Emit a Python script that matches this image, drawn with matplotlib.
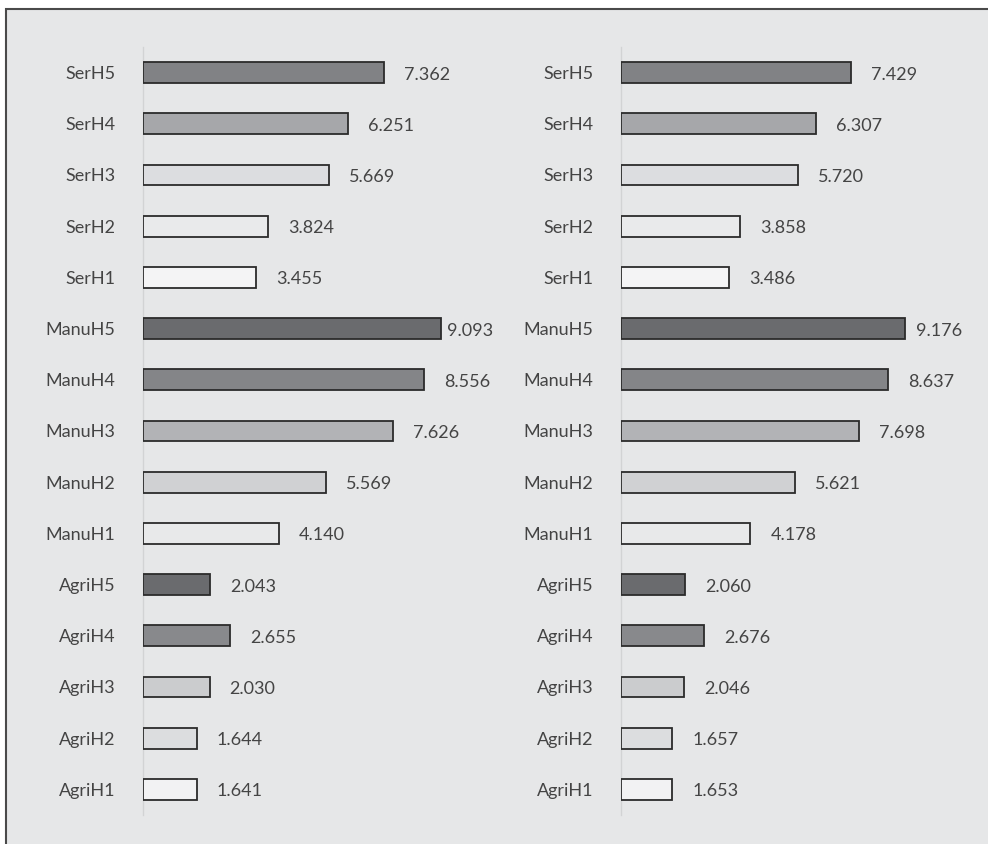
import matplotlib.pyplot as plt
from matplotlib.patches import Rectangle

plt.rcParams['font.family'] = ['Lato', 'DejaVu Sans']

# rows from bottom to top
labels = ['AgriH1', 'AgriH2', 'AgriH3', 'AgriH4', 'AgriH5',
          'ManuH1', 'ManuH2', 'ManuH3', 'ManuH4', 'ManuH5',
          'SerH1', 'SerH2', 'SerH3', 'SerH4', 'SerH5']
left_vals = [1.641, 1.644, 2.030, 2.655, 2.043,
             4.140, 5.569, 7.626, 8.556, 9.093,
             3.455, 3.824, 5.669, 6.251, 7.362]
right_vals = [1.653, 1.657, 2.046, 2.676, 2.060,
              4.178, 5.621, 7.698, 8.637, 9.176,
              3.486, 3.858, 5.720, 6.307, 7.429]
colors = ['#f2f2f3', '#dcdddf', '#cbccce', '#88898c', '#6a6b6e',
          '#e8e9ea', '#d0d1d3', '#b2b3b6', '#848588', '#6a6b6e',
          '#f4f4f5', '#e9eaeb', '#dcdde0', '#a6a7aa', '#818285']

BG = '#e6e7e8'
TXT = '#444444'
W, H = 988, 844

fig = plt.figure(figsize=(W / 100, H / 100), dpi=100)
fig.patch.set_facecolor('white')
# framed gray panel, kept behind the axes
fig.patches.append(Rectangle((6 / W, -0.05), 1.2, 1 - 9 / H + 0.05,
                             transform=fig.transFigure, facecolor=BG,
                             edgecolor='#4a4a4a', linewidth=1.5, zorder=-10))


def draw_panel(ax, vals, big_pad):
    ax.set_facecolor('none')
    ys = range(len(labels))
    ax.barh(ys, vals, height=0.41, color=colors, edgecolor='#2b2b2b',
            linewidth=1.3, zorder=3)
    vmax = max(vals)
    for y, v in zip(ys, vals):
        pad = big_pad if v == vmax else 20
        ax.annotate(f'{v:.3f}', (v, y), xytext=(pad, -2), textcoords='offset pixels',
                    va='center', ha='left', fontsize=13, color=TXT)
    ax.set_yticks(list(ys))
    ax.set_yticklabels(labels, fontsize=13, color=TXT)
    ax.tick_params(axis='y', length=0, pad=20)
    ax.set_xticks([])
    ax.set_xlim(0, 10)
    ax.set_ylim(-0.5, len(labels) - 0.5)
    for s in ['top', 'right', 'bottom']:
        ax.spines[s].set_visible(False)
    ax.spines['left'].set_color('#d2d3d4')
    ax.spines['left'].set_linewidth(1.0)


bottom = 29 / H
height = 768 / H
ax1 = fig.add_axes([143 / W, bottom, 328 / W, height])
ax2 = fig.add_axes([621 / W, bottom, 309.5 / W, height])
draw_panel(ax1, left_vals, 6)
draw_panel(ax2, right_vals, 11)

fig.savefig('out.png', dpi=100, facecolor=fig.get_facecolor())
